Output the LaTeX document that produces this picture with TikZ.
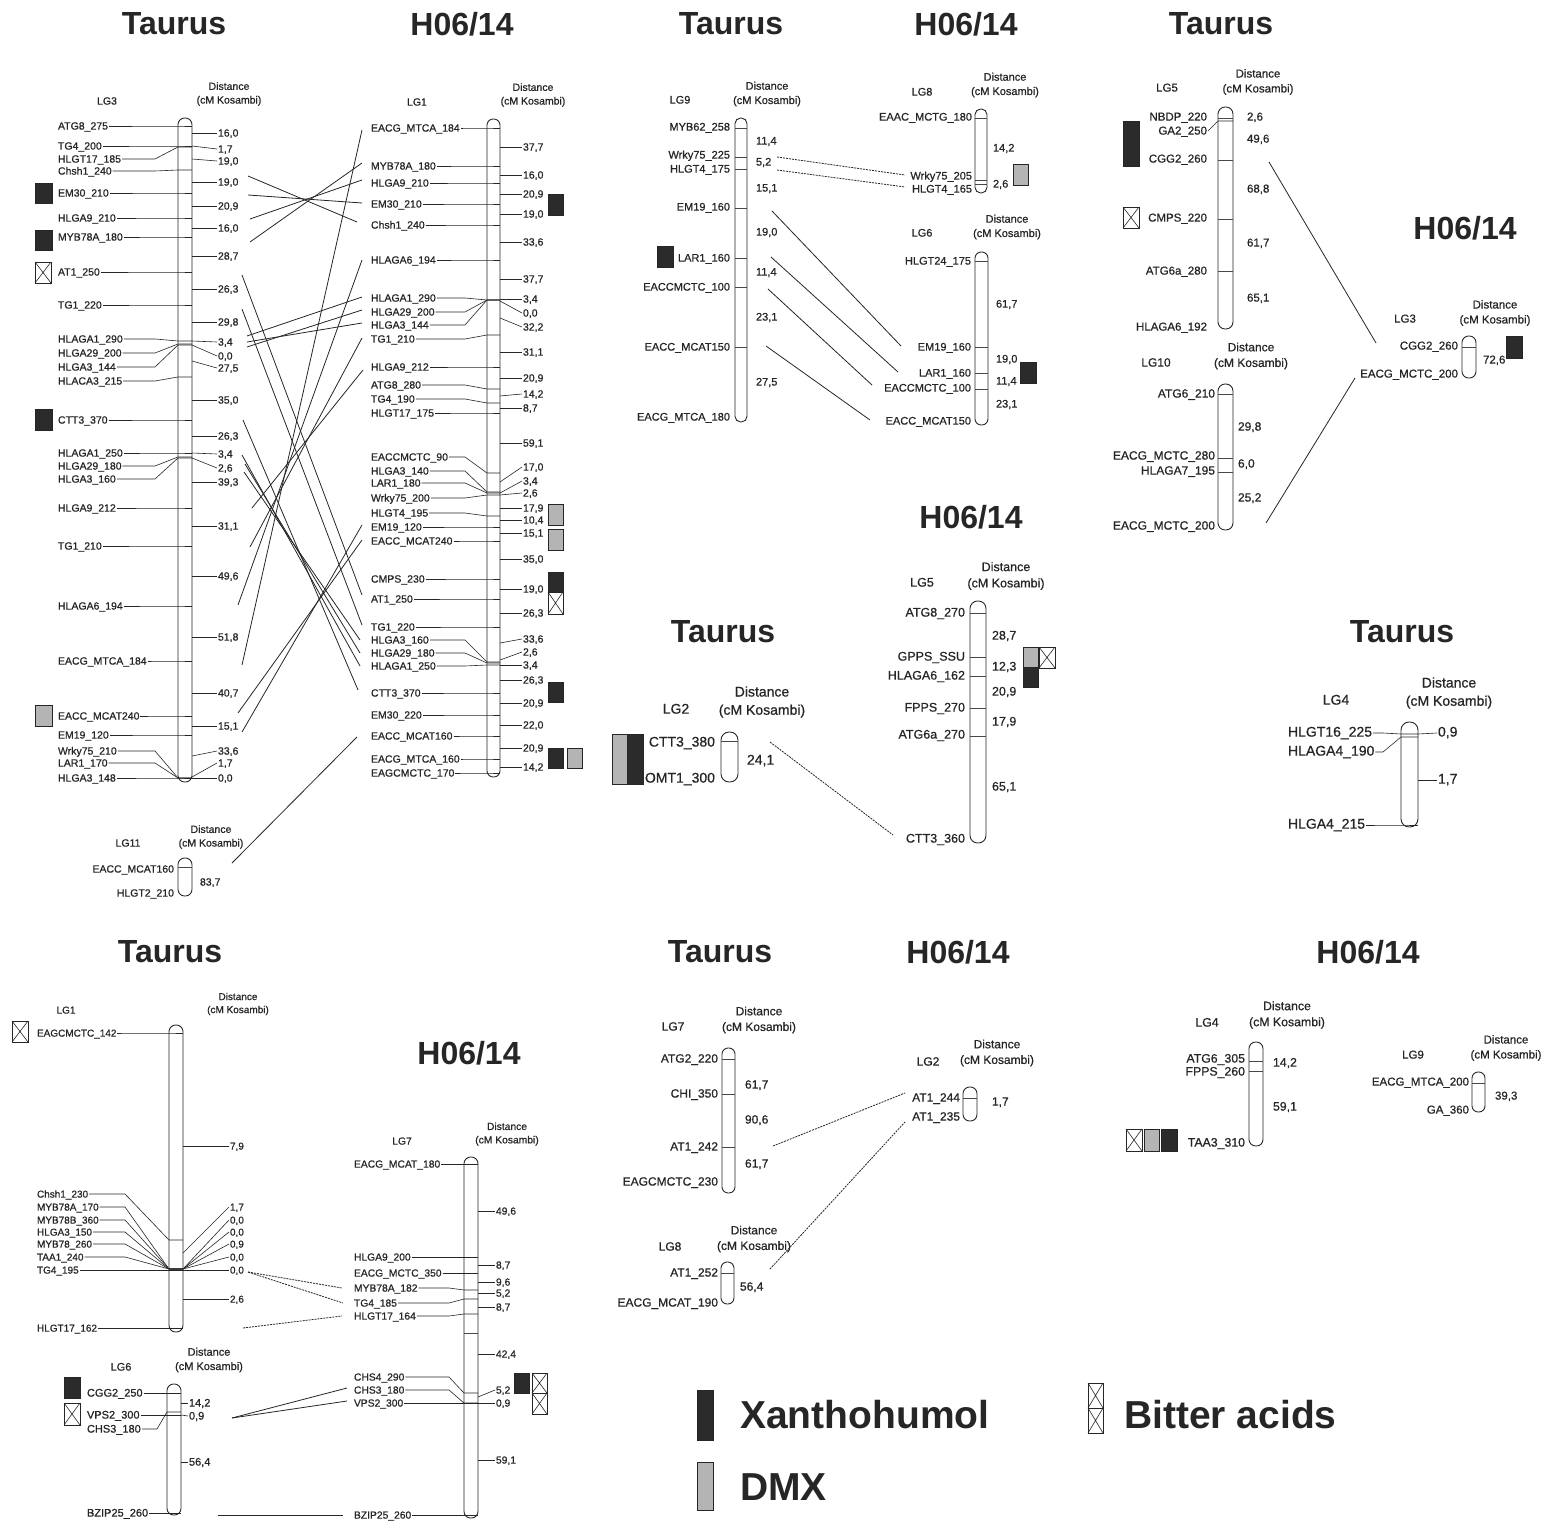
\documentclass[tikz,border=0pt]{standalone}
\usepackage{fontspec}
\setmainfont{Liberation Sans}
\newfontfamily\lf[FakeBold=0.7]{Liberation Sans}
\definecolor{ink}{HTML}{262626}
\definecolor{xblack}{HTML}{2B2B2B}
\definecolor{xgray}{HTML}{B4B4B4}
\newcounter{nd}
\def\fs{10.5}\def\fsb{13.6}
\newcommand\setfs[1]{\def\fs{#1}\pgfmathsetmacro\fsb{1.3*#1}}
\newcommand\chromo[4]{\stepcounter{nd}%
  \pgfmathsetmacro\cww{#2-#1}\pgfmathsetmacro\chh{#4-#3}\pgfmathsetmacro\crad{0.5*\cww-0.4}%
  \node[chr, minimum width=\cww pt, minimum height=\chh pt, rounded corners=\crad pt] (c\thend) at ({(#1+#2)/2},{(#3+#4)/2}) {};}
% left-aligned marker with leader: text, label y, tick y
\newcommand\LM[3]{\stepcounter{nd}%
  \node[lab,anchor=west] (n\thend) at (\lx,#2) {#1};%
  \draw[ld] (n\thend.east) -- (\kx,#2) -- (\cxl,#3) -- (\cxr,#3);}
% right-aligned marker with tick
\newcommand\RM[3]{\stepcounter{nd}%
  \node[lab,anchor=east] (n\thend) at (\lx,#2) {#1};%
  \draw[tk] (\cxl,#3) -- (\cxr,#3);}
% right-aligned end marker (no tick)
\newcommand\RE[2]{\stepcounter{nd}\node[lab,anchor=east] (n\thend) at (\lx,#2) {#1};}
% distance with leader
\newcommand\DL[3]{\stepcounter{nd}%
  \node[lab,anchor=west] (n\thend) at (\dx,#2) {#1};%
  \draw[ld] (\cxr,#3) -- (n\thend.west);}
% distance without leader
\newcommand\DN[2]{\stepcounter{nd}\node[lab,anchor=west] (n\thend) at (\dx,#2) {#1};}
% header
\newcommand\hdr[5]{\stepcounter{nd}%
  \node[lab] (h\thend) at (#2,#3) {#1};%
  \node[hd] (d\thend) at (#4,#5) {Distance\\(cM Kosambi)};}
% connector between free ends
\newcommand\cn[5]{\stepcounter{nd}\coordinate (p\thend) at (#1,#2);\coordinate (q\thend) at (#3,#4);\draw[#5] (p\thend) -- (q\thend);}
% boxes
\newcommand\bbx[4]{\draw[bk] (#1,#2) rectangle (#3,#4);}
\newcommand\gbx[4]{\draw[gy] (#1,#2) rectangle (#3,#4);}
\newcommand\xbx[4]{\draw[ld,fill=white] (#1,#2) rectangle (#3,#4);\draw[ld] (#1,#2) -- (#3,#4) (#1,#4) -- (#3,#2);}
\begin{document}
\begin{tikzpicture}[x=1pt,y=-1pt,
  lab/.style={inner sep=0.8pt, text height=0.72em, text depth=0pt, font=\lf\fontsize{\fs pt}{\fsb pt}\selectfont, text=ink},
  hd/.style={inner sep=0pt, align=center, font=\lf\fontsize{\fs pt}{\fsb pt}\selectfont, text=ink},
  ttl/.style={inner sep=0pt, font=\fontsize{32pt}{32pt}\selectfont\bfseries, text=ink},
  leg/.style={inner sep=0pt, anchor=west, font=\fontsize{39pt}{39pt}\selectfont\bfseries, text=ink},
  chr/.style={draw=ink, line width=0.9pt, fill=white, inner sep=0pt},
  ld/.style={draw=ink, line width=0.6pt},
  tk/.style={draw=ink!85, line width=0.5pt},
  conn/.style={draw=ink, line width=0.8pt},
  dconn/.style={draw=ink, line width=0.8pt, dash pattern=on 2pt off 1pt},
  bk/.style={draw=ink, line width=0.6pt, fill=xblack},
  gy/.style={draw=ink, line width=0.6pt, fill=xgray}]
\fill[white] (0,0) rectangle (1551,1528);
\useasboundingbox (0,0) rectangle (1551,1528);

% ---------- titles ----------
\node[ttl] (t1) at (174,24) {Taurus};
\node[ttl] (t2) at (462,24) {H06/14};
\node[ttl] (t3) at (731,24) {Taurus};
\node[ttl] (t4) at (966,24) {H06/14};
\node[ttl] (t5) at (1221,24) {Taurus};
\node[ttl] (t6) at (1465,228) {H06/14};
\node[ttl] (t7) at (971,517) {H06/14};
\node[ttl] (t8) at (723,632) {Taurus};
\node[ttl] (t9) at (1402,632) {Taurus};
\node[ttl] (t10) at (170,952) {Taurus};
\node[ttl] (t11) at (469,1053) {H06/14};
\node[ttl] (t12) at (720,952) {Taurus};
\node[ttl] (t13) at (958,952) {H06/14};
\node[ttl] (t14) at (1368,952) {H06/14};

% ---------- connectors ----------
\cn{248}{176}{357}{222}{conn}
\cn{248}{195}{362}{203}{conn}
\cn{250}{219}{362}{180}{conn}
\cn{250}{242}{362}{163}{conn}
\cn{242}{275}{362}{595}{conn}
\cn{242}{309}{362}{625}{conn}
\cn{247}{336}{362}{297}{conn}
\cn{247}{347}{362}{310}{conn}
\cn{247}{342}{362}{323}{conn}
\cn{243}{420}{358}{690}{conn}
\cn{242}{455}{360}{666}{conn}
\cn{245}{464}{360}{653}{conn}
\cn{244}{472}{360}{640}{conn}
\cn{252}{508}{363}{370}{conn}
\cn{250}{547}{362}{338}{conn}
\cn{238}{605}{362}{260}{conn}
\cn{242}{665}{362}{130}{conn}
\cn{238}{713}{362}{540}{conn}
\cn{242}{732}{362}{525}{conn}
\cn{232}{863}{357}{737}{conn}
\cn{777}{157}{905}{175}{dconn}
\cn{777}{170}{905}{187}{dconn}
\cn{772}{211}{901}{346}{conn}
\cn{771}{257}{898}{372}{conn}
\cn{768}{289}{872}{385}{conn}
\cn{766}{346}{870}{420}{conn}
\cn{1269}{162}{1376}{343}{conn}
\cn{1266}{523}{1355}{378}{conn}
\cn{770}{742}{893}{835}{dconn}
\cn{248}{1272}{342}{1288}{dconn}
\cn{248}{1272}{343}{1303}{dconn}
\cn{243}{1328}{342}{1316}{dconn}
\cn{232}{1418}{347}{1388}{conn}
\cn{232}{1418}{347}{1401}{conn}
\cn{218}{1515}{343}{1515}{conn}
\cn{773}{1146}{905}{1093}{dconn}
\cn{770}{1269}{905}{1122}{dconn}

% ---------- A: Taurus LG3 ----------
\begin{scope}
\setfs{10.5}
\def\cxl{178}\def\cxr{192}\def\lx{57}\def\kx{155}\def\dx{217}
\chromo{178}{192}{118}{782}
\hdr{LG3}{107}{101}{229}{94}
\LM{ATG8\_275}{126}{126}
\LM{TG4\_200}{146}{146}
\LM{HLGT17\_185}{159}{147}
\LM{Chsh1\_240}{171}{170}
\LM{EM30\_210}{193}{193}
\LM{HLGA9\_210}{218}{218}
\LM{MYB78A\_180}{237}{237}
\LM{AT1\_250}{272}{272}
\LM{TG1\_220}{305}{305}
\LM{HLAGA1\_290}{339}{341}
\LM{HLGA29\_200}{353}{344}
\LM{HLGA3\_144}{367}{345}
\LM{HLACA3\_215}{381}{377}
\LM{CTT3\_370}{420}{420}
\LM{HLAGA1\_250}{453}{453}
\LM{HLGA29\_180}{466}{457}
\LM{HLGA3\_160}{479}{458}
\LM{HLGA9\_212}{508}{508}
\LM{TG1\_210}{546}{546}
\LM{HLAGA6\_194}{606}{606}
\LM{EACG\_MTCA\_184}{661}{661}
\LM{EACC\_MCAT240}{716}{716}
\LM{EM19\_120}{735}{735}
\LM{Wrky75\_210}{751}{778}
\LM{LAR1\_170}{763}{778}
\LM{HLGA3\_148}{778}{778}
\DL{16,0}{133}{133}
\DL{1,7}{149}{146}
\DL{19,0}{161}{159}
\DL{19,0}{182}{182}
\DL{20,9}{206}{206}
\DL{16,0}{228}{228}
\DL{28,7}{256}{256}
\DL{26,3}{289}{289}
\DL{29,8}{322}{322}
\DL{3,4}{342}{341}
\DL{0,0}{356}{345}
\DL{27,5}{368}{361}
\DL{35,0}{400}{400}
\DL{26,3}{436}{436}
\DL{3,4}{454}{453}
\DL{2,6}{468}{458}
\DL{39,3}{482}{482}
\DL{31,1}{526}{526}
\DL{49,6}{576}{576}
\DL{51,8}{637}{637}
\DL{40,7}{693}{693}
\DL{15,1}{726}{726}
\DL{33,6}{751}{756}
\DL{1,7}{763}{777}
\DL{0,0}{778}{778}
\bbx{35}{183}{52}{203}
\bbx{35}{230}{52}{250}
\xbx{35}{262}{51}{283}
\bbx{35}{409}{52}{430}
\gbx{35}{705}{52}{726}
\end{scope}

% ---------- A: Taurus LG11 ----------
\begin{scope}
\setfs{10.5}
\def\cxl{178}\def\cxr{192}\def\lx{175}\def\dx{199}
\chromo{178}{192}{858}{896}
\hdr{LG11}{128}{843}{211}{837}
\RM{EACC\_MCAT160}{869}{867}
\RE{HLGT2\_210}{893}
\DN{83,7}{882}
\end{scope}

% ---------- B: H06/14 LG1 ----------
\begin{scope}
\setfs{10.5}
\def\cxl{487}\def\cxr{500}\def\lx{370}\def\kx{465}\def\dx{522}
\chromo{487}{500}{119}{777}
\hdr{LG1}{417}{102}{533}{95}
\LM{EACG\_MTCA\_184}{128}{128}
\LM{MYB78A\_180}{166}{166}
\LM{HLGA9\_210}{183}{183}
\LM{EM30\_210}{204}{204}
\LM{Chsh1\_240}{225}{225}
\LM{HLAGA6\_194}{260}{260}
\LM{HLAGA1\_290}{298}{300}
\LM{HLGA29\_200}{312}{300}
\LM{HLGA3\_144}{325}{300}
\LM{TG1\_210}{339}{335}
\LM{HLGA9\_212}{367}{367}
\LM{ATG8\_280}{385}{389}
\LM{TG4\_190}{399}{403}
\LM{HLGT17\_175}{413}{413}
\LM{EACCMCTC\_90}{457}{473}
\LM{HLGA3\_140}{471}{492}
\LM{LAR1\_180}{483}{493}
\LM{Wrky75\_200}{498}{495}
\LM{HLGT4\_195}{513}{516}
\LM{EM19\_120}{527}{527}
\LM{EACC\_MCAT240}{541}{541}
\LM{CMPS\_230}{579}{579}
\LM{AT1\_250}{599}{599}
\LM{TG1\_220}{627}{627}
\LM{HLGA3\_160}{640}{662}
\LM{HLGA29\_180}{653}{663}
\LM{HLAGA1\_250}{666}{665}
\LM{CTT3\_370}{693}{693}
\LM{EM30\_220}{715}{715}
\LM{EACC\_MCAT160}{736}{736}
\LM{EACG\_MTCA\_160}{759}{759}
\LM{EAGCMCTC\_170}{773}{773}
\DL{37,7}{147}{147}
\DL{16,0}{175}{175}
\DL{20,9}{194}{194}
\DL{19,0}{214}{214}
\DL{33,6}{242}{242}
\DL{37,7}{279}{279}
\DL{3,4}{299}{299}
\DL{0,0}{313}{301}
\DL{32,2}{327}{318}
\DL{31,1}{352}{352}
\DL{20,9}{378}{378}
\DL{14,2}{394}{396}
\DL{8,7}{408}{408}
\DL{59,1}{443}{443}
\DL{17,0}{467}{482}
\DL{3,4}{481}{493}
\DL{2,6}{493}{495}
\DL{17,9}{508}{508}
\DL{10,4}{520}{520}
\DL{15,1}{533}{533}
\DL{35,0}{559}{559}
\DL{19,0}{589}{589}
\DL{26,3}{613}{613}
\DL{33,6}{639}{643}
\DL{2,6}{652}{660}
\DL{3,4}{665}{665}
\DL{26,3}{680}{680}
\DL{20,9}{703}{703}
\DL{22,0}{725}{725}
\DL{20,9}{748}{748}
\DL{14,2}{767}{767}
\bbx{548}{194}{563}{215}
\gbx{548}{504}{563}{525}
\gbx{548}{529}{563}{550}
\bbx{548}{572}{563}{592}
\xbx{548}{592}{563}{614}
\bbx{548}{682}{563}{702}
\bbx{548}{748}{563}{768}
\gbx{567}{748}{582}{768}
\end{scope}

% ---------- C: Taurus LG9 ----------
\begin{scope}
\setfs{11}
\def\cxl{735}\def\cxr{747}\def\lx{731}\def\dx{755}
\chromo{735}{747}{118}{422}
\hdr{LG9}{680}{100}{767}{94}
\RM{MYB62\_258}{127}{128}
\RM{Wrky75\_225}{155}{157}
\RM{HLGT4\_175}{169}{169}
\RM{EM19\_160}{207}{208}
\RM{LAR1\_160}{258}{258}
\RM{EACCMCTC\_100}{287}{287}
\RM{EACC\_MCAT150}{347}{347}
\RE{EACG\_MTCA\_180}{417}
\DN{11,4}{141}
\DN{5,2}{162}
\DN{15,1}{188}
\DN{19,0}{232}
\DN{11,4}{272}
\DN{23,1}{317}
\DN{27,5}{382}
\bbx{657}{246}{673}{267}
\end{scope}

% ---------- C: H06 LG8 ----------
\begin{scope}
\setfs{11}
\def\cxl{975}\def\cxr{987}\def\lx{973}\def\dx{992}
\chromo{975}{987}{109}{193}
\hdr{LG8}{922}{92}{1005}{85}
\RM{EAAC\_MCTG\_180}{117}{118}
\RM{Wrky75\_205}{176}{180}
\RE{HLGT4\_165}{189}
\draw[tk] (975,184) -- (987,184);
\DN{14,2}{148}
\DN{2,6}{184}
\gbx{1013}{164}{1028}{185}
\end{scope}

% ---------- C: H06 LG6 ----------
\begin{scope}
\setfs{11}
\def\cxl{975}\def\cxr{988}\def\lx{972}\def\dx{995}
\chromo{975}{988}{252}{425}
\hdr{LG6}{922}{233}{1007}{227}
\RM{HLGT24\_175}{261}{261}
\RM{EM19\_160}{347}{347}
\RM{LAR1\_160}{373}{373}
\RM{EACCMCTC\_100}{388}{389}
\RE{EACC\_MCAT150}{421}
\DN{61,7}{304}
\DN{19,0}{359}
\DN{11,4}{381}
\DN{23,1}{404}
\bbx{1020}{362}{1036}{383}
\end{scope}

% ---------- D: Taurus LG5 ----------
\begin{scope}
\setfs{11.5}
\def\cxl{1218}\def\cxr{1233}\def\lx{1208}\def\dx{1246}
\chromo{1218}{1233}{107}{329}
\hdr{LG5}{1167}{88}{1258}{82}
\RM{NBDP\_220}{117}{118}
\RE{GA2\_250}{131}
\draw[ld] (n\thend.east) -- (1218,121) -- (1233,121);
\RM{CGG2\_260}{159}{160}
\RM{CMPS\_220}{218}{219}
\RM{ATG6a\_280}{271}{271}
\RE{HLAGA6\_192}{327}
\DN{2,6}{117}
\DN{49,6}{139}
\DN{68,8}{189}
\DN{61,7}{243}
\DN{65,1}{298}
\bbx{1123}{121}{1139}{166}
\xbx{1123}{207}{1139}{228}
\end{scope}

% ---------- D: Taurus LG10 ----------
\begin{scope}
\setfs{12}
\def\cxl{1218}\def\cxr{1233}\def\lx{1216}\def\dx{1237}
\chromo{1218}{1233}{384}{530}
\hdr{LG10}{1156}{363}{1251}{356}
\RM{ATG6\_210}{394}{394}
\RM{EACG\_MCTC\_280}{456}{458}
\RM{HLAGA7\_195}{471}{472}
\RE{EACG\_MCTC\_200}{526}
\DN{29,8}{427}
\DN{6,0}{464}
\DN{25,2}{498}
\end{scope}

% ---------- D: H06 LG3 ----------
\begin{scope}
\setfs{11.5}
\def\cxl{1462}\def\cxr{1476}\def\lx{1459}\def\dx{1482}
\chromo{1462}{1476}{336}{378}
\hdr{LG3}{1405}{319}{1495}{313}
\RM{CGG2\_260}{346}{347}
\RE{EACG\_MCTC\_200}{374}
\DN{72,6}{360}
\bbx{1506}{336}{1522}{358}
\end{scope}

% ---------- E: Taurus LG2 ----------
\begin{scope}
\setfs{14}
\def\cxl{721}\def\cxr{738}\def\lx{716}\def\dx{746}
\chromo{721}{738}{732}{782}
\hdr{LG2}{676}{710}{762}{702}
\RM{CTT3\_380}{743}{741}
\RE{OMT1\_300}{779}
\DN{24,1}{761}
\gbx{612}{734}{627}{784}
\bbx{627}{734}{643}{784}
\end{scope}

% ---------- E: H06 LG5 ----------
\begin{scope}
\setfs{12.5}
\def\cxl{970}\def\cxr{986}\def\lx{966}\def\dx{991}
\chromo{970}{986}{601}{843}
\hdr{LG5}{922}{583}{1006}{576}
\RM{ATG8\_270}{613}{613}
\RM{GPPS\_SSU}{657}{657}
\RM{HLAGA6\_162}{676}{676}
\RM{FPPS\_270}{708}{708}
\RM{ATG6a\_270}{735}{736}
\RE{CTT3\_360}{839}
\DN{28,7}{636}
\DN{12,3}{667}
\DN{20,9}{692}
\DN{17,9}{722}
\DN{65,1}{787}
\gbx{1023}{647}{1038}{667}
\bbx{1023}{667}{1038}{687}
\xbx{1039}{647}{1055}{668}
\end{scope}

% ---------- F: Taurus LG4 ----------
\begin{scope}
\setfs{14}
\def\cxl{1401}\def\cxr{1418}\def\lx{1287}\def\kx{1383}\def\dx{1437}
\chromo{1401}{1418}{722}{827}
\hdr{LG4}{1336}{701}{1449}{693}
\LM{HLGT16\_225}{733}{734}
\LM{HLAGA4\_190}{752}{737}
\LM{HLGA4\_215}{825}{825}
\DL{0,9}{733}{734}
\DL{1,7}{780}{780}
\end{scope}

% ---------- G: Taurus LG1 ----------
\begin{scope}
\setfs{10}
\def\cxl{169}\def\cxr{183}\def\lx{36}\def\kx{125}\def\dx{229}
\chromo{169}{183}{1025}{1332}
\hdr{LG1}{66}{1010}{238}{1004}
\LM{EAGCMCTC\_142}{1033}{1033}
\LM{Chsh1\_230}{1194}{1240}
\LM{MYB78A\_170}{1207}{1269}
\LM{MYB78B\_360}{1220}{1269}
\LM{HLGA3\_150}{1232}{1269}
\LM{MYB78\_260}{1244}{1269}
\LM{TAA1\_240}{1257}{1269}
\LM{TG4\_195}{1270}{1270}
\LM{HLGT17\_162}{1328}{1328}
\DL{7,9}{1146}{1146}
\DL{1,7}{1207}{1253}
\DL{0,0}{1220}{1269}
\DL{0,0}{1232}{1269}
\DL{0,9}{1244}{1269}
\DL{0,0}{1257}{1269}
\DL{0,0}{1270}{1270}
\DL{2,6}{1299}{1299}
\xbx{12}{1021}{28}{1042}
\end{scope}

% ---------- G: Taurus LG6 ----------
\begin{scope}
\setfs{11}
\def\cxl{167}\def\cxr{181}\def\lx{86}\def\kx{157}\def\dx{188}
\chromo{167}{181}{1384}{1515}
\hdr{LG6}{121}{1367}{209}{1360}
\LM{CGG2\_250}{1393}{1393}
\LM{VPS2\_300}{1415}{1415}
\LM{CHS3\_180}{1429}{1412}
\LM{BZIP25\_260}{1513}{1513}
\DL{14,2}{1403}{1403}
\DL{0,9}{1416}{1415}
\DL{56,4}{1462}{1462}
\bbx{64}{1377}{80}{1398}
\xbx{64}{1403}{80}{1425}
\end{scope}

% ---------- G: H06 LG7 ----------
\begin{scope}
\setfs{10.3}
\def\cxl{464}\def\cxr{478}\def\lx{353}\def\kx{449}\def\dx{495}
\chromo{464}{478}{1157}{1518}
\hdr{LG7}{402}{1141}{507}{1134}
\draw[tk] (464,1333) -- (478,1333);
\LM{EACG\_MCAT\_180}{1164}{1164}
\LM{HLGA9\_200}{1257}{1257}
\LM{EACG\_MCTC\_350}{1273}{1273}
\LM{MYB78A\_182}{1288}{1290}
\LM{TG4\_185}{1303}{1299}
\LM{HLGT17\_164}{1316}{1314}
\LM{CHS4\_290}{1377}{1393}
\LM{CHS3\_180}{1390}{1403}
\LM{VPS2\_300}{1403}{1403}
\LM{BZIP25\_260}{1515}{1515}
\DL{49,6}{1211}{1211}
\DL{8,7}{1265}{1265}
\DL{9,6}{1282}{1282}
\DL{5,2}{1293}{1293}
\DL{8,7}{1307}{1307}
\DL{42,4}{1354}{1354}
\DL{5,2}{1390}{1397}
\DL{0,9}{1403}{1403}
\DL{59,1}{1460}{1460}
\bbx{514}{1373}{529}{1393}
\xbx{532}{1373}{547}{1393}
\xbx{532}{1393}{547}{1414}
\end{scope}

% ---------- H: Taurus LG7 ----------
\begin{scope}
\setfs{12}
\def\cxl{722}\def\cxr{735}\def\lx{719}\def\dx{744}
\chromo{722}{735}{1048}{1193}
\hdr{LG7}{673}{1027}{759}{1020}
\RM{ATG2\_220}{1059}{1059}
\RM{CHI\_350}{1094}{1094}
\RM{AT1\_242}{1147}{1147}
\RE{EAGCMCTC\_230}{1182}
\DN{61,7}{1085}
\DN{90,6}{1120}
\DN{61,7}{1164}
\end{scope}

% ---------- H: H06 LG2 ----------
\begin{scope}
\setfs{12}
\def\cxl{963}\def\cxr{977}\def\lx{961}\def\dx{991}
\chromo{963}{977}{1087}{1121}
\hdr{LG2}{928}{1062}{997}{1053}
\RM{AT1\_244}{1098}{1098}
\RE{AT1\_235}{1117}
\DN{1,7}{1102}
\end{scope}

% ---------- H: Taurus LG8 ----------
\begin{scope}
\setfs{12}
\def\cxl{721}\def\cxr{734}\def\lx{719}\def\dx{739}
\chromo{721}{734}{1262}{1304}
\hdr{LG8}{670}{1247}{754}{1239}
\RM{AT1\_252}{1273}{1273}
\RE{EACG\_MCAT\_190}{1303}
\DN{56,4}{1287}
\end{scope}

% ---------- I: H06 LG4 ----------
\begin{scope}
\setfs{12.3}
\def\cxl{1249}\def\cxr{1263}\def\lx{1246}\def\dx{1272}
\chromo{1249}{1263}{1042}{1146}
\hdr{LG4}{1207}{1023}{1287}{1015}
\RM{ATG6\_305}{1059}{1061}
\RM{FPPS\_260}{1072}{1071}
\RE{TAA3\_310}{1143}
\DN{14,2}{1063}
\DN{59,1}{1107}
\xbx{1126}{1129}{1142}{1151}
\gbx{1144}{1129}{1159}{1151}
\bbx{1161}{1129}{1177}{1151}
\end{scope}

% ---------- I: H06 LG9 ----------
\begin{scope}
\setfs{11.5}
\def\cxl{1472}\def\cxr{1485}\def\lx{1470}\def\dx{1494}
\chromo{1472}{1485}{1072}{1112}
\hdr{LG9}{1413}{1055}{1506}{1048}
\RM{EACG\_MTCA\_200}{1082}{1083}
\RE{GA\_360}{1110}
\DN{39,3}{1096}
\end{scope}

% ---------- legend ----------
\bbx{697}{1390}{713}{1440}
\node[leg] (lx) at (740,1415) {Xanthohumol};
\gbx{697}{1462}{713}{1510}
\node[leg] (ld) at (740,1487) {DMX};
\xbx{1088}{1383}{1103}{1408}
\xbx{1088}{1408}{1103}{1433}
\node[leg] (lb) at (1124,1415) {Bitter acids};
\end{tikzpicture}
\end{document}
